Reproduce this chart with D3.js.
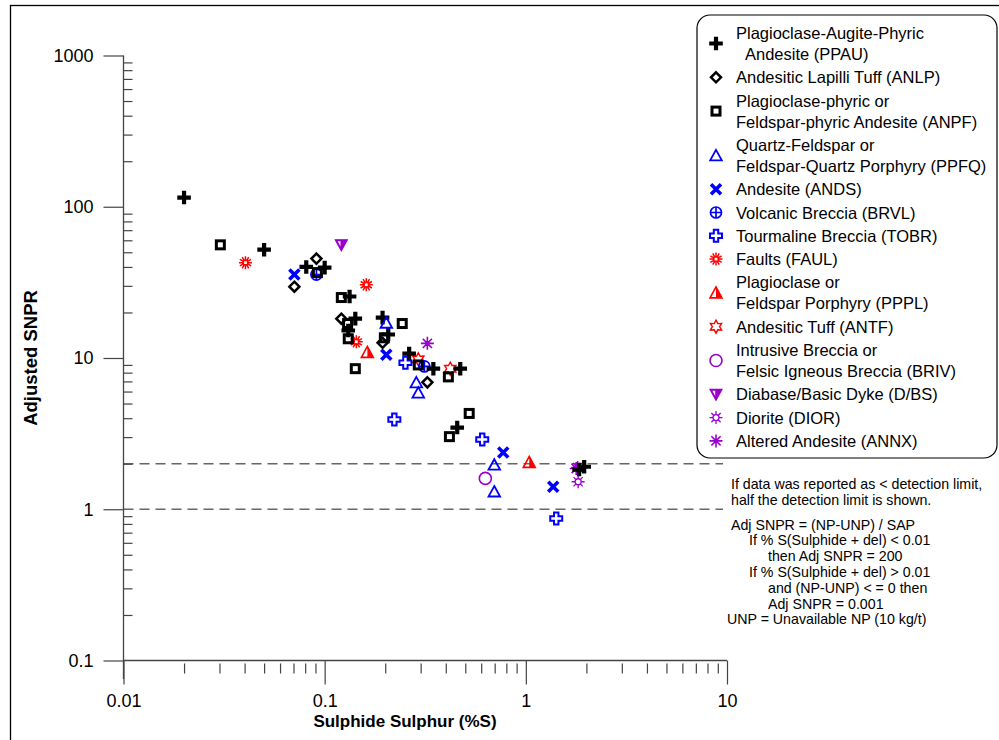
<!DOCTYPE html>
<html><head><meta charset="utf-8">
<script src="https://cdn.jsdelivr.net/npm/d3@7"></script>
<style>body{margin:0;background:#fff}svg{display:block}text{font-family:"Liberation Sans",Arial,sans-serif}</style>
</head><body>
<svg id="c" width="999" height="740"></svg>
<script>
// ---- data (x = Sulphide Sulphur %S, y = Adjusted SNPR) ----
const ppau = [[0.02,115],[0.05,52],[0.081,40],[0.1,39.6],[0.133,25.5],[0.142,18.2],[0.131,15.2],[0.194,18.5],[0.207,14.3],[0.263,10.7],[0.347,8.5],[0.472,8.5],[0.456,3.47],[1.84,1.83],[1.95,1.91]];
const anlp = [[0.0707,29.6],[0.091,45.4],[0.121,18.2],[0.194,12.6],[0.324,6.9]];
const anpf = [[0.0303,56],[0.092,36.7],[0.121,25.1],[0.13,16.9],[0.131,13.4],[0.142,8.5],[0.243,16.9],[0.198,13.6],[0.292,9.0],[0.412,7.5],[0.523,4.3],[0.417,3.02]];
const ppfq = [[0.2025,17.1],[0.2855,6.9],[0.292,5.9],[0.697,1.97],[0.697,1.31]];
const ands = [[0.0707,35.6],[0.2025,10.5],[0.772,2.37],[1.368,1.41]];
const brvl = [[0.091,35.6],[0.313,8.8]];
const tobr = [[0.252,9.3],[0.222,3.92],[0.607,2.89],[1.416,0.868]];
const faul = [[0.0404,42.7],[0.161,30.5],[0.1437,12.8]];
const pppl = [[0.163,10.9],[1.04,2.04]];
const antf = [[0.421,8.5],[0.292,9.8]];
const briv = [[0.629,1.6]];
const dbs  = [[0.121,56]];
const dior = [[1.82,1.52],[1.81,1.89]];
const annx = [[0.324,12.5],[1.78,1.86]];

const xTicks = [0.01,0.1,1,10];
const yTicks = [0.1,1,10,100,1000];
const refLines = [2,1];

const legendItems = [
  {sym:"ppau", lines:["Plagioclase-Augite-Phyric","  Andesite (PPAU)"]},
  {sym:"anlp", lines:["Andesitic Lapilli Tuff (ANLP)"]},
  {sym:"anpf", lines:["Plagioclase-phyric or","Feldspar-phyric Andesite (ANPF)"]},
  {sym:"ppfq", lines:["Quartz-Feldspar or","Feldspar-Quartz Porphyry (PPFQ)"]},
  {sym:"ands", lines:["Andesite (ANDS)"]},
  {sym:"brvl", lines:["Volcanic Breccia (BRVL)"]},
  {sym:"tobr", lines:["Tourmaline Breccia (TOBR)"]},
  {sym:"faul", lines:["Faults (FAUL)"]},
  {sym:"pppl", lines:["Plagioclase or","Feldspar Porphyry (PPPL)"]},
  {sym:"antf", lines:["Andesitic Tuff (ANTF)"]},
  {sym:"briv", lines:["Intrusive Breccia or","Felsic Igneous Breccia (BRIV)"]},
  {sym:"dbs",  lines:["Diabase/Basic Dyke (D/BS)"]},
  {sym:"dior", lines:["Diorite (DIOR)"]},
  {sym:"annx", lines:["Altered Andesite (ANNX)"]}
];
const notes = [
  {t:"If data was reported as < detection limit,", indent:0},
  {t:"half the detection limit is shown.", indent:0},
  {t:"Adj SNPR = (NP-UNP) / SAP", indent:0, gap:true},
  {t:"If % S(Sulphide + del) < 0.01", indent:1},
  {t:"then Adj SNPR = 200", indent:2},
  {t:"If % S(Sulphide + del) > 0.01", indent:1},
  {t:"and (NP-UNP) < = 0 then", indent:2},
  {t:"Adj SNPR = 0.001", indent:2},
  {t:"UNP = Unavailable NP (10 kg/t)", indent:-1}
];

// drawing order (later on top)
const series = {annx, dior, dbs, briv, antf, pppl, faul, brvl, tobr, ands, anlp, anpf, ppau, ppfq};

// ---- drawing ----
const svg = d3.select("#c");
const BLUE="#0000ff", RED="#ff0000", PURP="#9900cc";
const x = d3.scaleLog().domain([0.01,10]).range([123.5,727]);
const y = d3.scaleLog().domain([0.1,1000]).range([660.5,55.5]);

// outer frame
svg.append("rect").attr("x",10.5).attr("y",5.5).attr("width",1100).attr("height",900)
  .attr("fill","none").attr("stroke","#000").attr("stroke-width",1.3);

function rays(n, r0, r1, off){
  let s="";
  for(let i=0;i<n;i++){const a=off+i*Math.PI*2/n;
    s+=`M${(r0*Math.cos(a)).toFixed(2)},${(r0*Math.sin(a)).toFixed(2)}L${(r1*Math.cos(a)).toFixed(2)},${(r1*Math.sin(a)).toFixed(2)}`;}
  return s;
}
function drawSym(g, type){
  switch(type){
    case "ppau": g.append("path").attr("d","M-2.1,-6.8h4.2v4.7h4.7v4.2h-4.7v4.7h-4.2v-4.7h-4.7v-4.2h4.7z").attr("fill","#000"); break;
    case "anlp": g.append("path").attr("d","M0,-5L5,0L0,5L-5,0Z").attr("fill","none").attr("stroke","#000").attr("stroke-width",2.5); break;
    case "anpf": g.append("rect").attr("x",-4).attr("y",-4).attr("width",8).attr("height",8).attr("fill","none").attr("stroke","#000").attr("stroke-width",3); break;
    case "ppfq": g.append("path").attr("d","M0,-5.5L5.8,5L-5.8,5Z").attr("fill","none").attr("stroke",BLUE).attr("stroke-width",1.8); break;
    case "ands": g.append("path").attr("d","M-5,-5L5,5M5,-5L-5,5").attr("stroke",BLUE).attr("stroke-width",3.6); break;
    case "brvl": g.append("circle").attr("r",5.5).attr("fill","none").attr("stroke",BLUE).attr("stroke-width",1.7);
      g.append("path").attr("d","M-5.5,0H5.5M0,-5.5V5.5").attr("stroke",BLUE).attr("stroke-width",1.7); break;
    case "tobr": g.append("path").attr("d","M-2.2,-6H2.2V-2.2H6V2.2H2.2V6H-2.2V2.2H-6V-2.2H-2.2Z").attr("fill","#fff").attr("stroke",BLUE).attr("stroke-width",2); break;
    case "faul": g.append("path").attr("d",rays(12,0,6.5,0)).attr("stroke",RED).attr("stroke-width",1.5);
      g.append("rect").attr("x",-2).attr("y",-2).attr("width",4).attr("height",4).attr("fill","#fff").attr("stroke",RED).attr("stroke-width",1.2); break;
    case "pppl": g.append("path").attr("d","M0,-6L6,5L-6,5Z").attr("fill","none").attr("stroke",RED).attr("stroke-width",1.6);
      g.append("path").attr("d","M0,-6L6,5L0,5Z").attr("fill",RED); break;
    case "antf": { const pts=[]; for(let i=0;i<12;i++){const a=-Math.PI/2+i*Math.PI/6; const r=i%2?3.6:6.5; pts.push([r*Math.cos(a),r*Math.sin(a)]);}
      g.append("path").attr("d","M"+pts.map(p=>p[0].toFixed(2)+","+p[1].toFixed(2)).join("L")+"Z").attr("fill","none").attr("stroke",RED).attr("stroke-width",1.4); break; }
    case "briv": g.append("circle").attr("r",6).attr("fill","none").attr("stroke",PURP).attr("stroke-width",1.6); break;
    case "dbs": g.append("path").attr("d","M-6,-5L6,-5L0,6Z").attr("fill",PURP).attr("stroke",PURP).attr("stroke-width",1.2);
      g.append("path").attr("d","M-3.6,-3.6L-0.8,-3.6L-0.8,1.6Z").attr("fill","#fff"); break;
    case "dior": g.append("circle").attr("r",3).attr("fill","none").attr("stroke",PURP).attr("stroke-width",1.3);
      g.append("path").attr("d",rays(8,3,6.5,0)).attr("stroke",PURP).attr("stroke-width",1.3); break;
    case "annx": g.append("path").attr("d",rays(8,0,6.5,0)).attr("stroke",PURP).attr("stroke-width",1.6); break;
  }
}

// reference dashed lines
svg.append("g").selectAll("line").data(refLines).join("line")
  .attr("x1",x(0.01)).attr("x2",x(10)-4).attr("y1",d=>y(d)).attr("y2",d=>y(d))
  .attr("stroke","#666").attr("stroke-width",1.5).attr("stroke-dasharray","10,6");

// minor ticks
const minorX=[], minorY=[];
for(let e=-2;e<1;e++) for(let k=2;k<=9;k++) minorX.push(k*Math.pow(10,e));
for(let e=-1;e<3;e++) for(let k=2;k<=9;k++) minorY.push(k*Math.pow(10,e));

// Y axis
const yAx = svg.append("g").attr("transform",`translate(${x(0.01)},0)`)
  .call(d3.axisLeft(y).tickValues(yTicks).tickSize(20).tickSizeOuter(0).tickPadding(10).tickFormat(d=>String(d)));
yAx.select(".domain").remove();
svg.append("g").attr("transform",`translate(${x(0.01)},0)`)
  .call(d3.axisRight(y).tickValues(minorY).tickSize(9).tickFormat(""))
  .select(".domain").remove();
svg.append("line").attr("x1",x(0.01)).attr("x2",x(0.01)).attr("y1",y(1000)).attr("y2",679).attr("stroke","#444").attr("stroke-width",1.3);

// X axis
const xAx = svg.append("g").attr("transform",`translate(0,${y(0.1)})`)
  .call(d3.axisBottom(x).tickValues(xTicks).tickSize(24).tickSizeOuter(0).tickPadding(10).tickFormat(d=>String(d)));
xAx.select(".domain").remove();
svg.append("g").attr("transform",`translate(0,${y(0.1)+3})`)
  .call(d3.axisBottom(x).tickValues(minorX).tickSize(10).tickFormat(""))
  .select(".domain").remove();
svg.append("line").attr("x1",x(0.01)).attr("x2",x(10)).attr("y1",y(0.1)).attr("y2",y(0.1)).attr("stroke","#444").attr("stroke-width",1.3);

svg.selectAll(".tick line").attr("stroke","#444").attr("stroke-width",1.2);
svg.selectAll(".tick text").attr("font-size",18).attr("fill","#000").attr("font-family","Liberation Sans, Arial, sans-serif");

// axis titles
svg.append("text").attr("x",405).attr("y",727).attr("text-anchor","middle")
  .attr("font-size",17).attr("font-weight","bold").text("Sulphide Sulphur (%S)");
svg.append("text").attr("transform","translate(37,358) rotate(-90)").attr("text-anchor","middle")
  .attr("font-size",18.5).attr("font-weight","bold").text("Adjusted SNPR");

// points
const ptsG = svg.append("g");
Object.entries(series).forEach(([k,arr])=>{
  arr.forEach(d=>{
    const g = ptsG.append("g").attr("transform",`translate(${x(d[0])},${y(d[1])})`);
    drawSym(g,k);
  });
});

// legend
svg.append("rect").attr("x",697).attr("y",15).attr("width",300).attr("height",443).attr("rx",13)
  .attr("fill","#fff").attr("stroke","#000").attr("stroke-width",1.2);
const lg = svg.append("g");
let ly = 33;
legendItems.forEach(it=>{
  const n = it.lines.length;
  const symY = ly + (n-1)*21/2;
  drawSym(lg.append("g").attr("transform",`translate(716,${symY})`), it.sym);
  it.lines.forEach((t,i)=>{
    const ind = t.startsWith("  ");
    lg.append("text").attr("x",ind?745:736).attr("y",ly+i*21+6).attr("font-size",16.5).attr("fill","#000").text(t.trim());
  });
  ly += (n-1)*21 + 23.3;
});

// notes
const ng = svg.append("g");
let ny = 489;
notes.forEach((nt,i)=>{
  if(nt.gap) ny += 9;
  const xx = nt.indent===-1?727:nt.indent===0?731:nt.indent===1?749:768;
  ng.append("text").attr("x",xx).attr("y",ny).attr("font-size",14.2).attr("fill","#000").text(nt.t);
  ny += 15.8;
});
</script>
</body></html>
